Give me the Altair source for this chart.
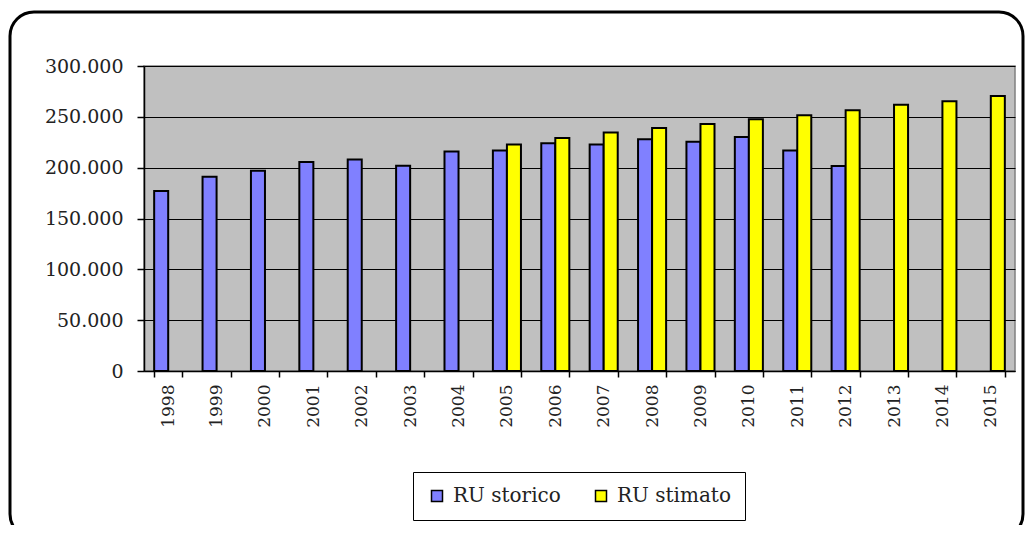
import altair as alt
import pandas as pd

years = [str(y) for y in range(1998, 2016)]
storico = [177000, 191000, 197000, 205500, 208000, 202000, 216000, 217000, 224000, 222700,
           228000, 225600, 230200, 217000, 201600, None, None, None]
stimato = [None, None, None, None, None, None, None, 222700, 229200, 234700,
           239000, 242900, 247700, 251600, 256500, 262000, 265300, 270500]
series = ["RU storico", "RU stimato"]
colors = ["#8080FF", "#FFFF00"]
y_ticks = [0, 50000, 100000, 150000, 200000, 250000, 300000]

rows = []
for yr, a, b in zip(years, storico, stimato):
    if a is not None:
        rows.append({"anno": yr, "serie": series[0], "valore": a})
    if b is not None:
        rows.append({"anno": yr, "serie": series[1], "valore": b})
df = pd.DataFrame(rows)

bars = alt.Chart(df).mark_bar(stroke="black", strokeWidth=2).encode(
    x=alt.X("anno:N", sort=years, title=None,
            scale=alt.Scale(domain=years, paddingInner=0.42, paddingOuter=0.21),
            axis=alt.Axis(labelAngle=270, labelFont="DejaVu Serif", labelFontSize=17,
                          labelColor="#222", labelPadding=7, tickBand="extent",
                          tickSize=6, tickColor="black", domainColor="black",
                          domainWidth=1.5, tickWidth=1.5, grid=False)),
    xOffset=alt.XOffset("serie:N", scale=alt.Scale(domain=series, paddingInner=0, paddingOuter=0)),
    y=alt.Y("valore:Q", title=None,
            scale=alt.Scale(domain=[0, 300000], nice=False),
            axis=alt.Axis(values=y_ticks,
                          labelExpr="datum.value == 0 ? '0' : format(datum.value/1000, 'd') + '.000'",
                          labelFont="DejaVu Serif", labelFontSize=19, labelColor="#222",
                          labelPadding=14, tickSize=7, tickColor="black", tickWidth=1.5,
                          domainColor="black", domainWidth=1.5,
                          grid=True, gridColor="black", gridWidth=1.2)),
    color=alt.Color("serie:N", scale=alt.Scale(domain=series, range=colors),
                    legend=alt.Legend(title=None, orient="none", legendX=269, legendY=406,
                                      direction="horizontal", symbolType="square",
                                      symbolSize=121, symbolStrokeColor="black",
                                      symbolStrokeWidth=1.5, symbolOpacity=1,
                                      labelFont="DejaVu Serif", labelFontSize=20,
                                      labelColor="#222", labelOffset=6,
                                      columnPadding=30, padding=14,
                                      strokeColor="black", fillColor="white")),
)

frame = alt.Chart(pd.DataFrame({"k": [0]})).mark_rect(
    fill=None, stroke="black", strokeWidth=3, cornerRadius=24
).encode(
    x=alt.value(-134), x2=alt.value(879), y=alt.value(-54), y2=alt.value(472)
)

chart = alt.layer(frame, bars).properties(
    width=871, height=305,
    autosize=alt.AutoSizeParams(type="none"),
    padding={"left": 136, "top": 58, "right": 10, "bottom": 154},
    background="white",
).configure_view(fill="#C0C0C0", stroke="#808080", strokeWidth=1.5)

chart.save("out.html", embed_options={"renderer": "svg", "actions": False})
